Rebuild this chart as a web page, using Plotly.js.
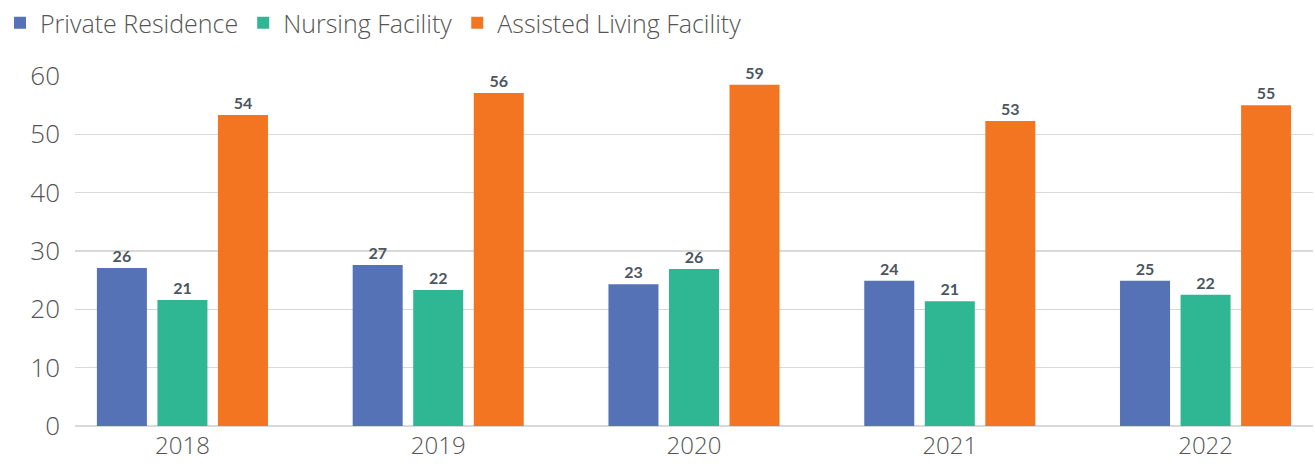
<!DOCTYPE html>
<html>
<head>
<meta charset="utf-8">
<script src="https://cdn.plot.ly/plotly-3.0.1.min.js"></script>
<style>html,body{margin:0;padding:0;background:#fff;}#chart{width:1315px;height:464px;}</style>
</head>
<body>
<div id="chart"></div>
<script>
const years = ["2018", "2019", "2020", "2021", "2022"];
const seriesNames = ["Private Residence", "Nursing Facility", "Assisted Living Facility"];
const privateResidence = [27.1, 27.6, 24.3, 24.9, 24.9];
const nursingFacility = [21.6, 23.3, 26.9, 21.4, 22.5];
const assistedLiving = [53.3, 57.1, 58.5, 52.3, 55.0];
const privateLabels = ["26", "27", "23", "24", "25"];
const nursingLabels = ["21", "22", "26", "21", "22"];
const assistedLabels = ["54", "56", "59", "53", "55"];
const yTicks = [0, 10, 20, 30, 40, 50, 60];

const colors = ["#5472B5", "#2EB792", "#F37521"];
const values = [privateResidence, nursingFacility, assistedLiving];
const labels = [privateLabels, nursingLabels, assistedLabels];

const textFont = "'Open Sans', sans-serif";

const traces = seriesNames.map((name, i) => ({
  type: "bar",
  name: name,
  x: years,
  y: values[i],
  text: labels[i],
  textposition: "outside",
  texttemplate: "%{text}",
  cliponaxis: false,
  textfont: {family: "Lato, sans-serif", size: 16, color: "#4B5661", weight: "bold"},
  marker: {color: colors[i]},
  hoverinfo: "skip"
}));

const layout = {
  width: 1315,
  height: 464,
  margin: {l: 75, r: 2, t: 76, b: 38},
  paper_bgcolor: "#ffffff",
  plot_bgcolor: "#ffffff",
  barmode: "group",
  bargap: 0.29,
  bargroupgap: 0.174,
  showlegend: true,
  legend: {
    orientation: "h",
    xref: "container", yref: "container",
    x: 0.0, y: 1.0, xanchor: "left", yanchor: "top",
    font: {family: textFont, size: 25, color: "#555555", weight: 300},
    itemwidth: 30,
    tracegroupgap: 0
  },
  xaxis: {
    type: "category",
    range: [-0.42, 4.42],
    showgrid: false,
    zeroline: false,
    showline: false,
    ticks: "",
    ticklabelstandoff: 3,
    tickfont: {family: textFont, size: 24, color: "#555555", weight: 300}
  },
  yaxis: {
    range: [0, 60],
    tickvals: yTicks,
    showgrid: true,
    gridcolor: "#d9d9d9",
    gridwidth: 1.5,
    zeroline: true,
    zerolinecolor: "#d9d9d9",
    zerolinewidth: 1.5,
    showline: false,
    ticks: "",
    ticklabelstandoff: 14,
    tickfont: {family: textFont, size: 26, color: "#555555", weight: 300}
  }
};

Plotly.newPlot("chart", traces, layout, {staticPlot: true, displayModeBar: false});
</script>
</body>
</html>
